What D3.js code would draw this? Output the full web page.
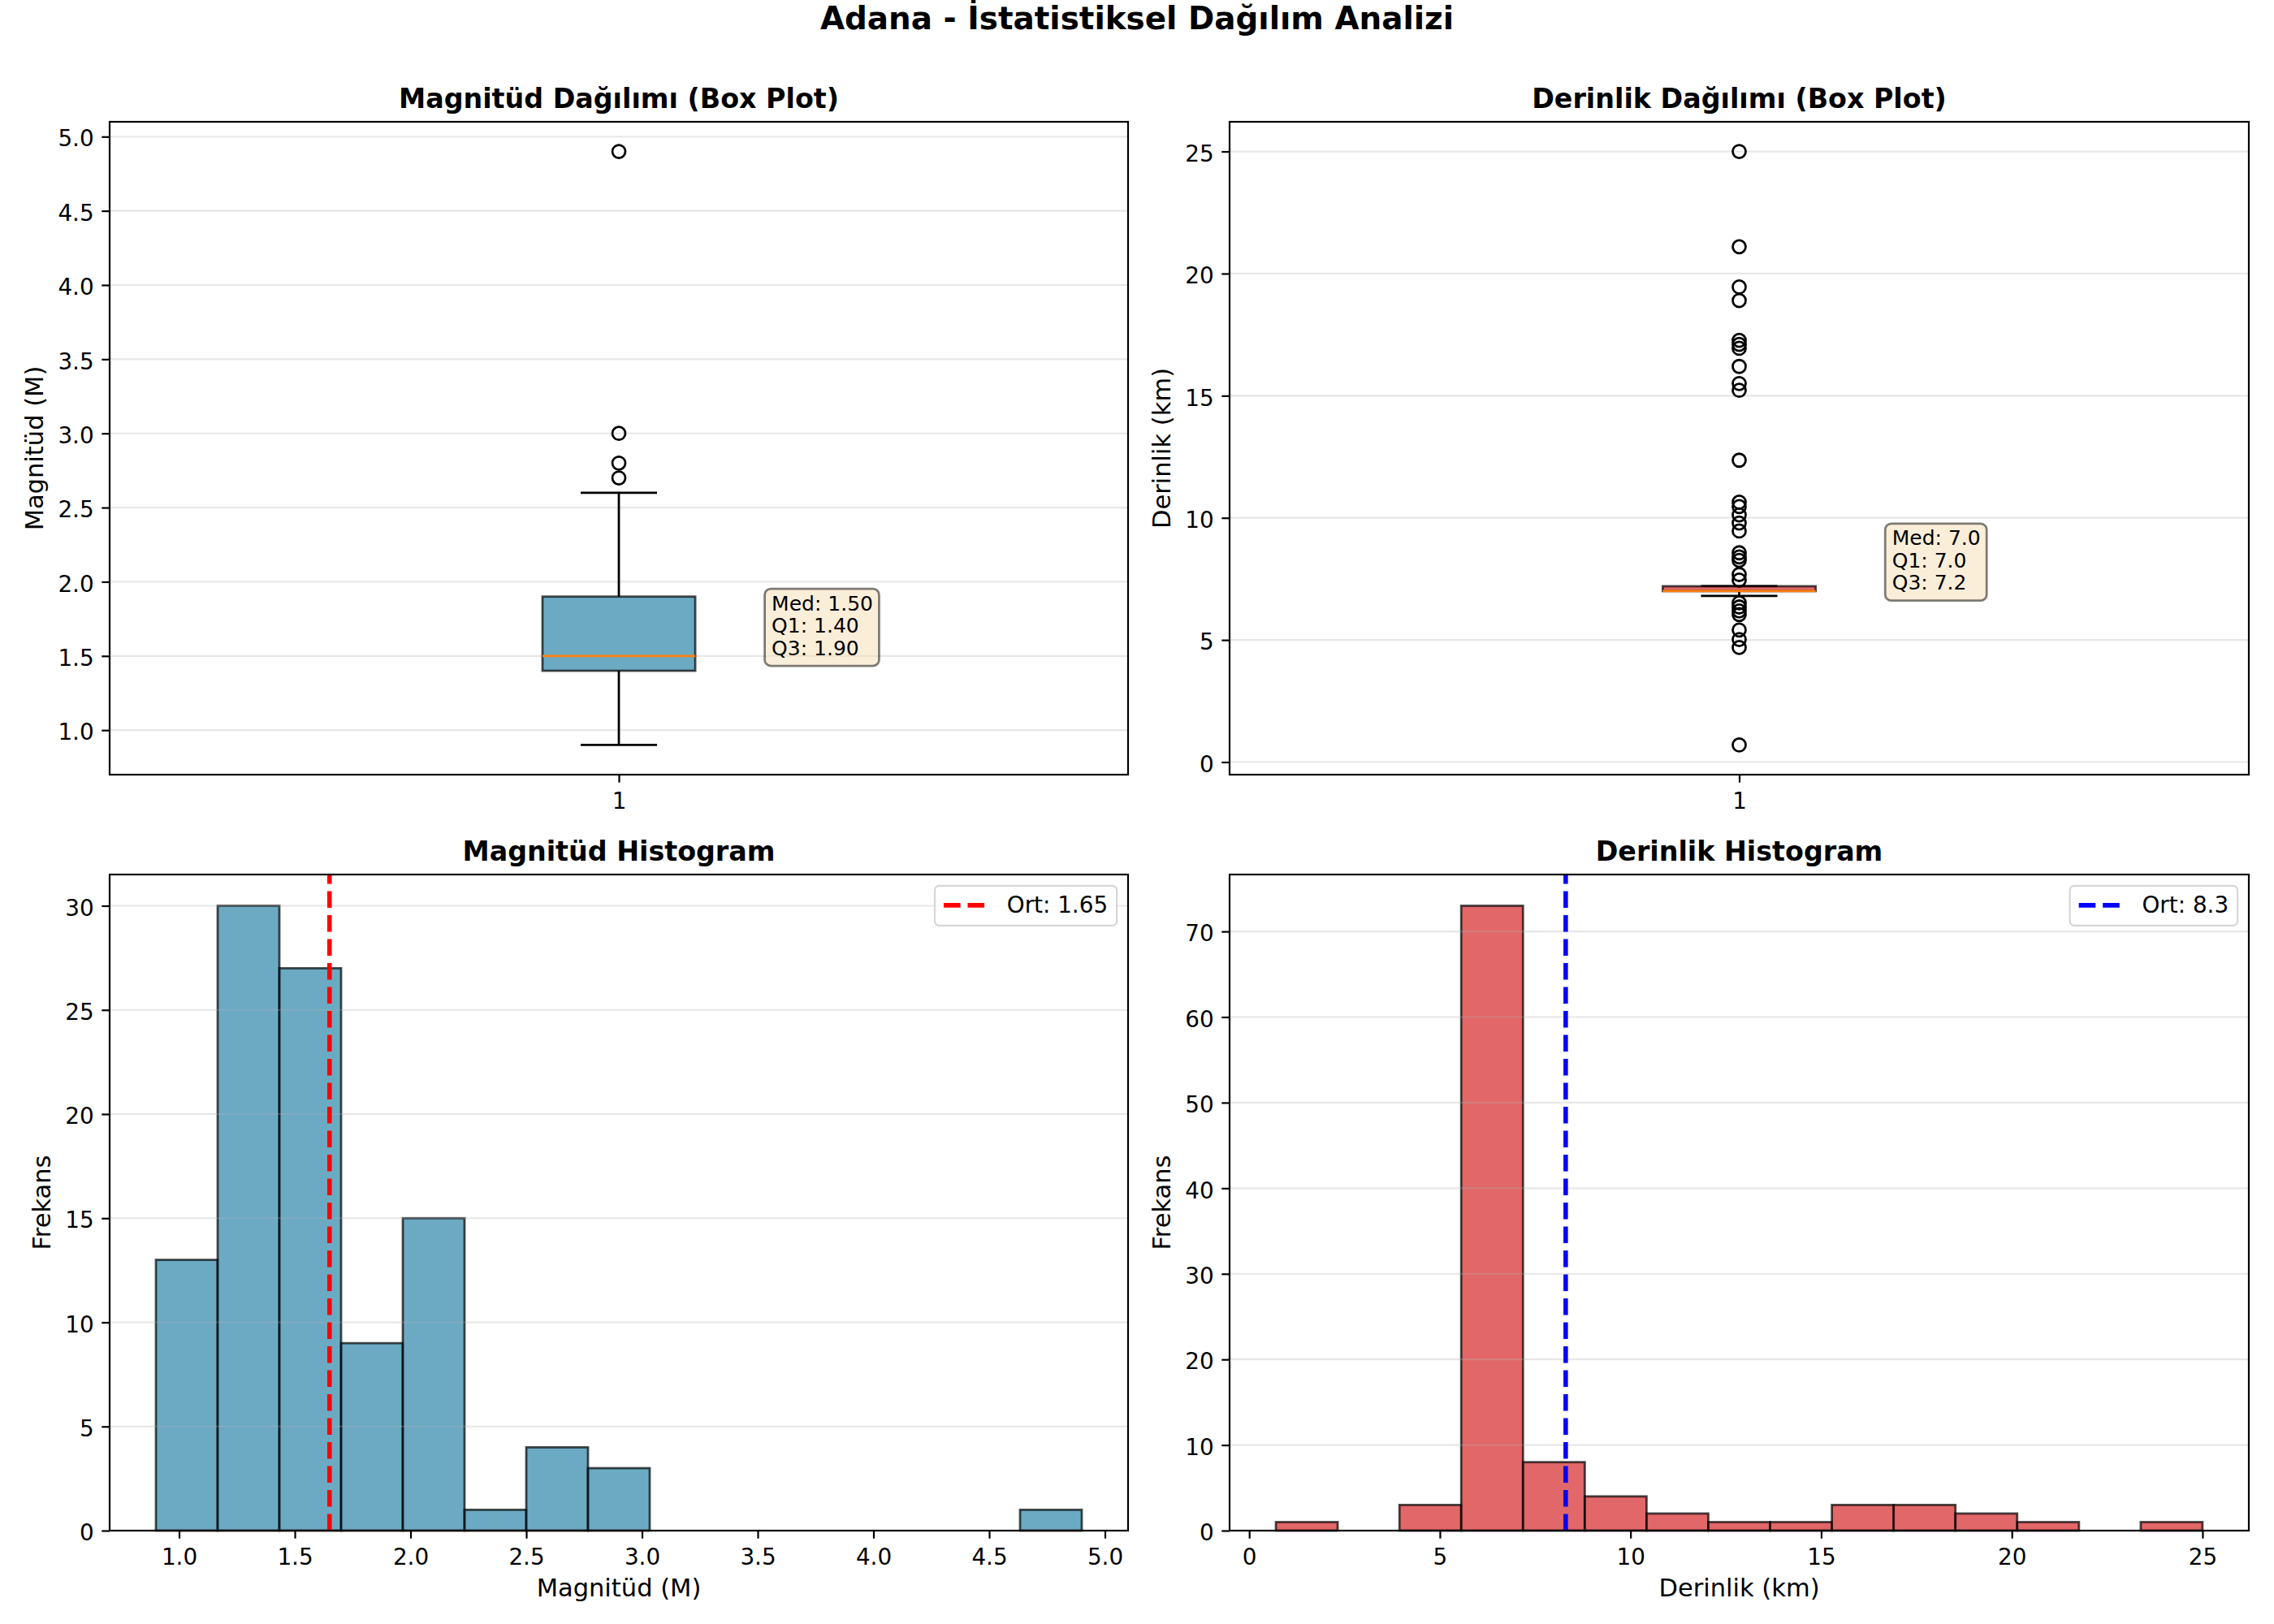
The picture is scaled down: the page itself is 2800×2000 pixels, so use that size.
<!DOCTYPE html>
<html><head><meta charset="utf-8">
<script src="https://cdn.jsdelivr.net/npm/d3@7"></script>
<style>
body{margin:0;background:#fff}
svg{display:block;font-family:"DejaVu Sans",sans-serif}
</style>
</head><body>
<svg id="chart" width="2800" height="2000"></svg>
<script>
// ---------------- data ----------------
const suptitle = "Adana - İstatistiksel Dağılım Analizi";
const panelTitles = ["Magnitüd Dağılımı (Box Plot)", "Derinlik Dağılımı (Box Plot)", "Magnitüd Histogram", "Derinlik Histogram"];
// [whiskerLow, Q1, median, Q3, whiskerHigh]
const magBoxStats = [0.9, 1.4, 1.5, 1.9, 2.6];
const magOutliers = [2.7, 2.8, 3.0, 4.9];
const depthBoxStats = [6.8, 7.0, 7.0, 7.2, 7.2];
const depthOutliers = [25.0, 21.1, 19.45, 18.9, 17.27, 17.1, 16.94, 16.2, 15.5, 15.22, 12.36,
  10.64, 10.46, 10.12, 9.79, 9.46, 8.57, 8.4, 8.26, 7.68, 7.45,
  6.52, 6.35, 6.19, 6.04, 5.41, 5.02, 4.69, 0.7];
const magAnnotLines = ["Med: 1.50", "Q1: 1.40", "Q3: 1.90"];
const depthAnnotLines = ["Med: 7.0", "Q1: 7.0", "Q3: 7.2"];
const magAnnotAt = [1.15, 1.69];
const depthAnnotAt = [1.15, 8.17];
const boxCategories = ["1"];

const magHistRange = [0.9, 4.9];
const magHistCounts = [13, 30, 27, 9, 15, 1, 4, 3, 0, 0, 0, 0, 0, 0, 1];
const depthHistRange = [0.7, 25.0];
const depthHistCounts = [1, 0, 3, 73, 8, 4, 2, 1, 1, 3, 3, 2, 1, 0, 1];
const magMean = 1.65;
const depthMean = 8.3;
const magLegend = "Ort: 1.65";
const depthLegend = "Ort: 8.3";

const magTicks = [1.0, 1.5, 2.0, 2.5, 3.0, 3.5, 4.0, 4.5, 5.0];
const depthTicks = [0, 5, 10, 15, 20, 25];
const magFreqTicks = [0, 5, 10, 15, 20, 25, 30];
const depthFreqTicks = [0, 10, 20, 30, 40, 50, 60, 70];

const magLabel = "Magnitüd (M)";
const depthLabel = "Derinlik (km)";
const freqLabel = "Frekans";

// ---------------- style / layout ----------------
const BLUE = "#2E86AB", RED = "#d62728", ORANGE = "#ff7f0e";
const TICK = 27.8, LABEL = 30.5, TITLE = 33.3, SUP = 38.9, ANN = 25;
const LW = 2.2, TL = 9.7, TP = 9.7;
const panels = [
  {x0: 135, x1: 1389, y0: 150, y1: 954},
  {x0: 1514, x1: 2769, y0: 150, y1: 954},
  {x0: 135, x1: 1389, y0: 1077, y1: 1885},
  {x0: 1514, x1: 2769, y0: 1077, y1: 1885}
];

const svg = d3.select("#chart");
svg.append("rect").attr("width", 2800).attr("height", 2000).attr("fill", "#fff");

svg.append("text").attr("x", 1400).attr("y", 36).attr("text-anchor", "middle")
  .attr("font-size", SUP).attr("font-weight", "bold").text(suptitle);

function pad(ext) { const r = ext[1] - ext[0]; return [ext[0] - 0.05 * r, ext[1] + 0.05 * r]; }

function makeAxes(i, xDom, yDom) {
  const p = panels[i];
  const x = d3.scaleLinear().domain(xDom).range([p.x0, p.x1]);
  const y = d3.scaleLinear().domain(yDom).range([p.y1, p.y0]);
  const g = svg.append("g");
  return {p, x, y, g};
}

function grid(ax, ticks) {
  ax.g.append("g").selectAll("line").data(ticks).join("line")
    .attr("x1", ax.p.x0).attr("x2", ax.p.x1)
    .attr("y1", d => ax.y(d)).attr("y2", d => ax.y(d))
    .attr("stroke", "#b0b0b0").attr("stroke-opacity", 0.3).attr("stroke-width", LW);
}

function frameAndAxes(ax, yTicks, yFmt, xTicks, xFmt, xLabel, yLabel, title) {
  const p = ax.p;
  ax.g.append("rect").attr("x", p.x0).attr("y", p.y0).attr("width", p.x1 - p.x0).attr("height", p.y1 - p.y0)
    .attr("fill", "none").attr("stroke", "#000").attr("stroke-width", LW);
  const ya = ax.g.append("g").attr("transform", `translate(${p.x0},0)`)
    .call(d3.axisLeft(ax.y).tickValues(yTicks).tickFormat(yFmt).tickSize(TL).tickPadding(TP));
  const xa = ax.g.append("g").attr("transform", `translate(0,${p.y1})`)
    .call(d3.axisBottom(ax.x).tickValues(xTicks.values).tickFormat(xTicks.fmt || xFmt).tickSize(TL).tickPadding(TP));
  [ya, xa].forEach(a => {
    a.select(".domain").remove();
    a.selectAll("line").attr("stroke", "#000").attr("stroke-width", LW);
    a.selectAll("text").attr("font-size", TICK).attr("font-family", "DejaVu Sans").attr("fill", "#000");
  });
  ya.selectAll("text").attr("dy", "0.42em");
  xa.selectAll("text").attr("dy", "0.83em");
  let maxW = 0;
  ya.selectAll("text").each(function () { maxW = Math.max(maxW, this.getBBox().width); });
  const lx = p.x0 - TL - TP - maxW - 11 - 0.236 * LABEL;
  const cy = (p.y0 + p.y1) / 2;
  ax.g.append("text").attr("transform", `translate(${lx},${cy}) rotate(-90)`)
    .attr("text-anchor", "middle").attr("font-size", LABEL).text(yLabel);
  if (xLabel) {
    ax.g.append("text").attr("x", (p.x0 + p.x1) / 2).attr("y", p.y1 + 81)
      .attr("text-anchor", "middle").attr("font-size", LABEL).text(xLabel);
  }
  ax.g.append("text").attr("x", (p.x0 + p.x1) / 2).attr("y", p.y0 - 16.7)
    .attr("text-anchor", "middle").attr("font-size", TITLE).attr("font-weight", "bold").text(title);
}

function boxPanel(i, stats, outliers, color, yTicks, yFmt, yLabel, annotLines, annotAt) {
  const all = [stats[0], stats[4], ...outliers];
  const ax = makeAxes(i, [0.5, 1.5], pad(d3.extent(all)));
  grid(ax, yTicks);
  const cx = ax.x(1), bw = ax.x(1 + 0.075) - ax.x(1 - 0.075), cw = bw / 2;
  const g = ax.g;
  // whiskers
  g.append("line").attr("x1", cx).attr("x2", cx).attr("y1", ax.y(stats[1])).attr("y2", ax.y(stats[0]))
    .attr("stroke", "#000").attr("stroke-width", 2.78);
  g.append("line").attr("x1", cx).attr("x2", cx).attr("y1", ax.y(stats[3])).attr("y2", ax.y(stats[4]))
    .attr("stroke", "#000").attr("stroke-width", 2.78);
  // caps
  [stats[0], stats[4]].forEach(v => g.append("line").attr("x1", cx - cw / 2).attr("x2", cx + cw / 2)
    .attr("y1", ax.y(v)).attr("y2", ax.y(v)).attr("stroke", "#000").attr("stroke-width", 2.78));
  // box
  g.append("rect").attr("x", cx - bw / 2).attr("width", bw)
    .attr("y", ax.y(stats[3])).attr("height", ax.y(stats[1]) - ax.y(stats[3]))
    .attr("fill", color).attr("fill-opacity", 0.7).attr("stroke", "#000").attr("stroke-opacity", 0.7).attr("stroke-width", 2.78);
  // median
  g.append("line").attr("x1", cx - bw / 2).attr("x2", cx + bw / 2).attr("y1", ax.y(stats[2])).attr("y2", ax.y(stats[2]))
    .attr("stroke", ORANGE).attr("stroke-width", 2.78);
  // fliers
  g.append("g").selectAll("circle").data(outliers).join("circle")
    .attr("cx", cx).attr("cy", d => ax.y(d)).attr("r", 8)
    .attr("fill", "none").attr("stroke", "#000").attr("stroke-width", 2.78);
  frameAndAxes(ax, yTicks, yFmt, {values: [1], fmt: () => boxCategories[0]}, null, null, yLabel, panelTitles[i]);
  // annotation
  const tx = ax.x(annotAt[0]), tyc = ax.y(annotAt[1]);
  const lh = 27.5;
  const firstBase = tyc - lh + 0.5 * (0.76 - 0.236) * ANN - 0.5;
  const ag = g.append("g");
  const box = ag.append("rect");
  let mw = 0;
  annotLines.forEach((t, k) => {
    const el = ag.append("text").attr("x", tx).attr("y", firstBase + k * lh).attr("font-size", ANN).text(t);
    mw = Math.max(mw, el.node().getComputedTextLength());
  });
  const top = firstBase - 0.76 * ANN - 7.5, bot = firstBase + 2 * lh + 0.236 * ANN + 7.5;
  box.attr("x", tx - 8.5).attr("y", top).attr("width", mw + 8.5 + 7.5).attr("height", bot - top)
    .attr("rx", 7.5).attr("fill", "#f5deb3").attr("fill-opacity", 0.5)
    .attr("stroke", "#000").attr("stroke-opacity", 0.5).attr("stroke-width", 2.78);
}

function histPanel(i, range, counts, color, mean, meanColor, legendText, xTicks, xFmt, yTicks, xLabel) {
  const ax = makeAxes(i, pad(range), [0, d3.max(counts) * 1.05]);
  const n = counts.length, w = (range[1] - range[0]) / n;
  const bins = counts.map((c, k) => ({a: range[0] + k * w, b: range[0] + (k + 1) * w, c}));
  ax.g.append("g").selectAll("rect").data(bins.filter(d => d.c > 0)).join("rect")
    .attr("x", d => ax.x(d.a)).attr("width", d => ax.x(d.b) - ax.x(d.a))
    .attr("y", d => ax.y(d.c)).attr("height", d => ax.y(0) - ax.y(d.c))
    .attr("fill", color).attr("fill-opacity", 0.7)
    .attr("stroke", "#000").attr("stroke-opacity", 0.7).attr("stroke-width", 2.78);
  grid(ax, yTicks);
  ax.g.append("line").attr("x1", ax.x(mean)).attr("x2", ax.x(mean)).attr("y1", ax.p.y1).attr("y2", ax.p.y0)
    .attr("stroke", meanColor).attr("stroke-width", 5.56).attr("stroke-dasharray", "20.6 8.9");
  frameAndAxes(ax, yTicks, d3.format("d"), {values: xTicks}, xFmt, xLabel, freqLabel, panelTitles[i]);
  // legend
  const lg = ax.g.append("g");
  const frame = lg.append("rect");
  const txt = lg.append("text").attr("font-size", TICK).text(legendText);
  const tw = txt.node().getComputedTextLength();
  const right = ax.p.x1 - 13.9, top = ax.p.y0 + 13.9;
  const wTot = 11 + 55.6 + 22.2 + tw + 11;
  const left = right - wTot;
  frame.attr("x", left).attr("y", top).attr("width", wTot).attr("height", 49).attr("rx", 5.5)
    .attr("fill", "#fff").attr("fill-opacity", 0.8).attr("stroke", "#cccccc").attr("stroke-opacity", 0.8).attr("stroke-width", 2.2);
  lg.append("line").attr("x1", left + 11).attr("x2", left + 11 + 55.6).attr("y1", top + 24).attr("y2", top + 24)
    .attr("stroke", meanColor).attr("stroke-width", 5.56).attr("stroke-dasharray", "20.6 8.9");
  txt.attr("x", left + 11 + 55.6 + 22.2).attr("y", top + 33);
}

boxPanel(0, magBoxStats, magOutliers, BLUE, magTicks, d3.format(".1f"), magLabel, magAnnotLines, magAnnotAt);
boxPanel(1, depthBoxStats, depthOutliers, RED, depthTicks, d3.format("d"), depthLabel, depthAnnotLines, depthAnnotAt);
histPanel(2, magHistRange, magHistCounts, BLUE, magMean, "red", magLegend, magTicks, d3.format(".1f"), magFreqTicks, magLabel);
histPanel(3, depthHistRange, depthHistCounts, RED, depthMean, "blue", depthLegend, depthTicks, d3.format("d"), depthFreqTicks, depthLabel);
</script>
</body></html>
